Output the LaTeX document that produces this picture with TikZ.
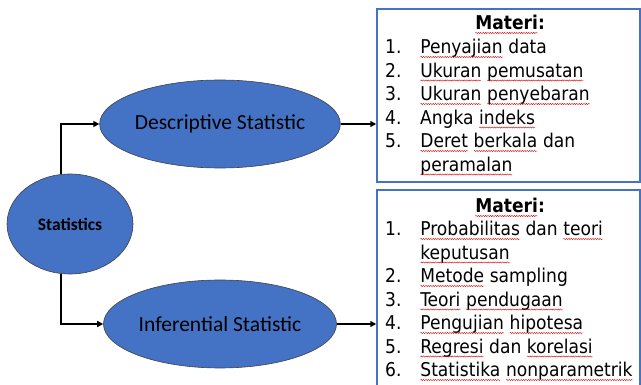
\documentclass[tikz,border=0pt]{standalone}
\usepackage{fontspec}
\setmainfont{Carlito}
\newfontfamily\listfont{DejaVu Sans Condensed}
\usetikzlibrary{shapes.geometric,arrows.meta,decorations.pathmorphing}
\definecolor{officeblue}{HTML}{4472C4}
% red wavy underline of the spell checker
\newcommand{\sq}[1]{\tikz[baseline=(w.base)]{\node[inner sep=0pt,outer sep=0pt] (w) {#1};
  \draw[red!85!black,line width=0.4pt,decorate,decoration={snake,amplitude=0.6pt,segment length=2.4pt}]
  ([yshift=-3pt]w.base west) -- ([yshift=-3pt]w.base east);}}

\begin{document}
\begin{tikzpicture}
[x=1pt,y=-1pt,
blob/.style={ellipse,fill=officeblue,draw=black!75,line width=0.6pt,inner sep=0pt},
listbox/.style={draw=officeblue,line width=1.5pt,minimum width=263pt,inner sep=0pt},
link/.style={line width=1.5pt,-{Triangle[length=6pt,width=6pt]}},
head/.style={font=\listfont\fontsize{19}{23.5}\selectfont\bfseries,inner sep=0pt,anchor=base},
items/.style={font=\listfont\fontsize{19}{23.5}\selectfont,inner sep=0pt,anchor=base west}]
\clip (0,0) rectangle (641,385);
\node[blob,minimum width=126pt,minimum height=100pt,font=\fontsize{17.5}{20}\selectfont\bfseries] (stat) at (70,224) {Statistics};
\node[blob,minimum width=233pt,minimum height=88pt,font=\fontsize{21.5}{25}\selectfont] (desc) at (220,124) {Descriptive Statistic};
\node[blob,minimum width=233pt,minimum height=88pt,font=\fontsize{21.5}{25}\selectfont] (inf) at (220,324) {Inferential Statistic};
\node[listbox,minimum height=173pt] (box1) at (508.5,95.5) {};
\node[listbox,minimum height=210pt] (box2) at (508.5,295) {};
\node[head] (head1) at (510,30) {\sq{Materi}:};
\node[items] (list1) at (385,54) {\begin{tabular}[t]{@{}p{35pt}@{}l@{}}
1. & \sq{Penyajian} data\\
2. & \sq{Ukuran} \sq{pemusatan}\\
3. & \sq{Ukuran} \sq{penyebaran}\\
4. & Angka \sq{indeks}\\
5. & \sq{Deret} \sq{berkala} dan\\
   & \sq{peramalan}
\end{tabular}};
\node[head] (head2) at (510,213) {\sq{Materi}:};
\node[items] (list2) at (385,236) {\begin{tabular}[t]{@{}p{35pt}@{}l@{}}
1. & \sq{Probabilitas} dan \sq{teori}\\
   & \sq{keputusan}\\
2. & \sq{Metode} sampling\\
3. & \sq{Teori} \sq{pendugaan}\\
4. & \sq{Pengujian} \sq{hipotesa}\\
5. & \sq{Regresi} dan \sq{korelasi}\\
6. & \sq{Statistika} \sq{nonparametrik}
\end{tabular}};
\draw[link] ([xshift=-9pt]stat.north) |- (desc.west);
\draw[link] ([xshift=-9pt]stat.south) |- (inf.west);
\draw[link] (desc.east) -- (desc.east -| box1.west);
\draw[link] (inf.east) -- (inf.east -| box2.west);
\end{tikzpicture}
\end{document}
